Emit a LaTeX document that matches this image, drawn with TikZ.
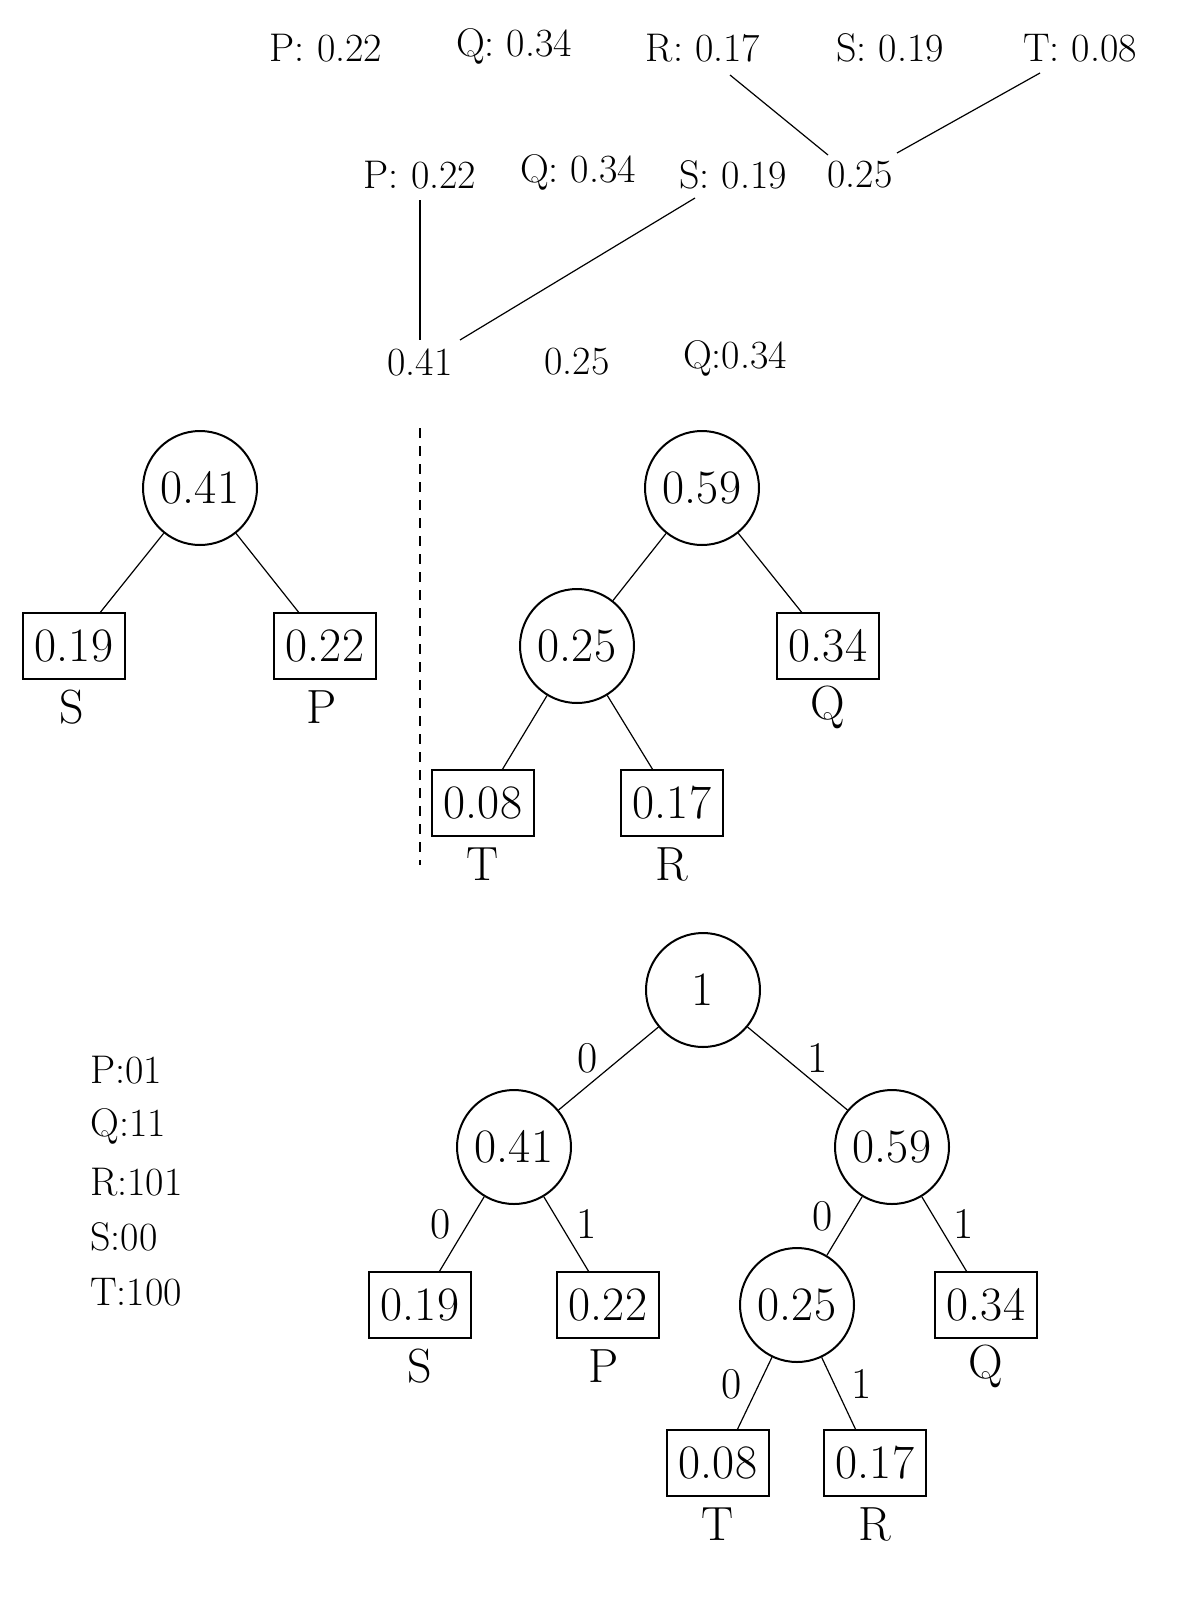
\documentclass[tikz,border=0pt]{standalone}
\usepackage{fontspec}
\begin{document}
\begin{tikzpicture}[x=1pt,y=-1pt,
  txt/.style={font=\fontsize{40}{46}\selectfont,inner sep=0pt},
  cnode/.style={circle,draw,line width=2pt,minimum size=114pt,inner sep=0pt,font=\fontsize{48}{54}\selectfont},
  bnode/.style={draw,line width=1.2pt,minimum width=102pt,minimum height=66pt,inner sep=0pt,font=\fontsize{48}{54}\selectfont},
  lbl/.style={font=\fontsize{48}{54}\selectfont,inner sep=0pt},
  el/.style={font=\fontsize{44}{50}\selectfont,inner sep=0pt},
  edge/.style={line width=1.2pt}]
\useasboundingbox (0,0) rectangle (1200,1603);
% row1
\node[txt] (p1) at (326,48) {P: 0.22};
\node[txt] (q1) at (514,46) {Q: 0.34};
\node[txt] (r1) at (703,48) {R: 0.17};
\node[txt] (s1) at (890,48) {S: 0.19};
\node[txt] (t1) at (1080,48) {T: 0.08};
% row2
\node[txt] (p2) at (420,175) {P: 0.22};
\node[txt] (q2) at (578,172) {Q: 0.34};
\node[txt] (s2) at (733,175) {S: 0.19};
\node[txt] (n25a) at (860,175) {0.25};
\draw[edge] (730,75) -- (828,155);
\draw[edge] (1040,73) -- (897,153);
% row3
\node[txt] (n41a) at (420,362) {0.41};
\node[txt] (n25b) at (577,362) {0.25};
\node[txt] (q3) at (735,358) {Q:0.34};
\draw[edge] (420,200) -- (420,340);
\draw[edge] (695,198) -- (460,340);
% dashed
\coordinate (d1) at (420,428); \coordinate (d2) at (420,865);
\draw[edge,dashed,dash pattern=on 10pt off 8pt] (d1) -- (d2);
% tree1
\node[cnode] (a) at (200,488) {0.41};
\node[bnode] (as) at (74,646) {0.19};
\node[bnode] (ap) at (325,646) {0.22};
\node[lbl] at (72,707) {S};
\node[lbl] at (322,707) {P};
\draw[edge] (a) -- (as.52); \draw[edge] (a) -- (ap.128);
% tree2
\node[cnode] (b) at (702,488) {0.59};
\node[cnode] (b1) at (577,646) {0.25};
\node[bnode] (bq) at (828,646) {0.34};
\node[lbl] at (828,707) {Q};
\node[bnode] (bt) at (483,803) {0.08};
\node[lbl] at (483,864) {T};
\node[bnode] (br) at (672,803) {0.17};
\node[lbl] at (672,864) {R};
\draw[edge] (b) -- (b1); \draw[edge] (b) -- (bq.128);
\draw[edge] (b1) -- (bt.60); \draw[edge] (b1) -- (br.120);
% tree3
\node[cnode] (c) at (703,990) {1};
\node[cnode] (c0) at (514,1147) {0.41};
\node[cnode] (c1) at (892,1147) {0.59};
\node[bnode] (cs) at (420,1305) {0.19};
\node[lbl] at (420,1366) {S};
\node[bnode] (cp) at (608,1305) {0.22};
\node[lbl] at (604,1366) {P};
\node[cnode] (c10) at (797,1305) {0.25};
\node[bnode] (cq) at (986,1305) {0.34};
\node[lbl] at (986,1366) {Q};
\node[bnode] (ct) at (718,1463) {0.08};
\node[lbl] at (718,1524) {T};
\node[bnode] (cr) at (875,1463) {0.17};
\node[lbl] at (875,1524) {R};
\draw[edge] (c) -- (c0); \draw[edge] (c) -- (c1);
\draw[edge] (c0) -- (cs.60); \draw[edge] (c0) -- (cp.120);
\draw[edge] (c1) -- (c10); \draw[edge] (c1) -- (cq.120);
\draw[edge] (c10) -- (ct.60); \draw[edge] (c10) -- (cr.120);
\node[el] at (588,1058) {0}; \node[el] at (818,1058) {1};
\node[el] at (441,1224) {0}; \node[el] at (587,1224) {1};
\node[el] at (823,1216) {0}; \node[el] at (964,1224) {1};
\node[el] at (732,1384) {0}; \node[el] at (862,1384) {1};
% codes
\node[txt,anchor=west] at (90,1070) {P:01};
\node[txt,anchor=west] at (90,1126) {Q:11};
\node[txt,anchor=west] at (90,1182) {R:101};
\node[txt,anchor=west] at (90,1237) {S:00};
\node[txt,anchor=west] at (90,1292) {T:100};
\end{tikzpicture}
\end{document}
